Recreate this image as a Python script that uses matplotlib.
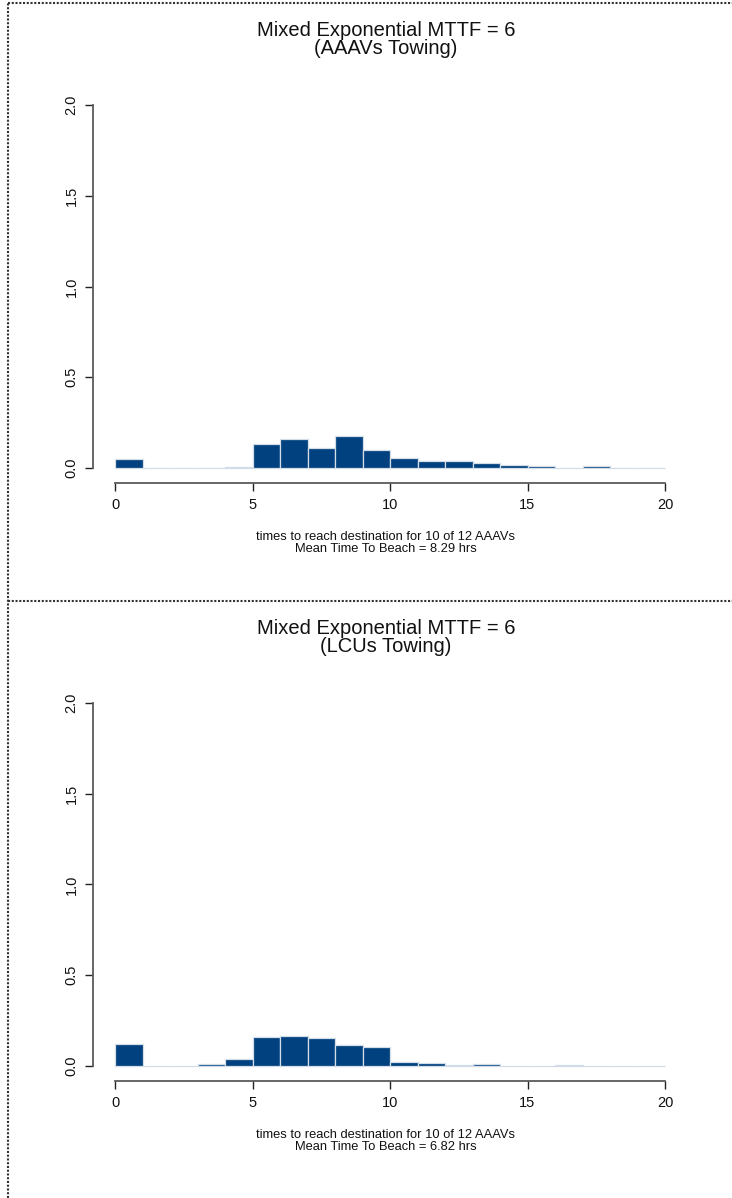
import matplotlib
matplotlib.use("Agg")
import matplotlib.pyplot as plt
from matplotlib.lines import Line2D
import numpy as np

plt.rcParams['font.family'] = ['Liberation Sans', 'DejaVu Sans']

# ---- data ----
bin_edges = list(range(0, 21))  # 1-hour bins, 0..20
dens_aaav = [0.050, 0.0, 0.0, 0.0, 0.005, 0.132, 0.160, 0.109, 0.178, 0.099,
             0.053, 0.040, 0.040, 0.026, 0.018, 0.011, 0.002, 0.011, 0.0, 0.0]
dens_lcu = [0.123, 0.0, 0.0, 0.012, 0.040, 0.160, 0.167, 0.154, 0.117, 0.105,
            0.020, 0.016, 0.006, 0.010, 0.001, 0.001, 0.005, 0.0, 0.0, 0.0]
titles = [["Mixed Exponential MTTF = 6", "(AAAVs Towing)"],
          ["Mixed Exponential MTTF = 6", "(LCUs Towing)"]]
xlabels = [["times to reach destination for 10 of 12 AAAVs", "Mean Time To Beach = 8.29 hrs"],
           ["times to reach destination for 10 of 12 AAAVs", "Mean Time To Beach = 6.82 hrs"]]
xticks = [0, 5, 10, 15, 20]
yticks = [0.0, 0.5, 1.0, 1.5, 2.0]
ytick_labels = ["0.0", "0.5", "1.0", "1.5", "2.0"]

W, H = 732, 1198
fig = plt.figure(figsize=(W / 100, H / 100), dpi=100)

FILL = "#02417F"
EDGE = "#D3DDE8"
AXC = "#5a5a5a"

panel_off = [0, 598]
for i, dens in enumerate([dens_aaav, dens_lcu]):
    off = panel_off[i]
    left, right = 93, 687
    top, bottom = 90.5 + off, 482.5 + off
    ax = fig.add_axes([left / W, 1 - bottom / H, (right - left) / W, (bottom - top) / H])
    lefts = np.array(bin_edges[:-1])
    widths = np.diff(bin_edges)
    ax.bar(lefts, dens, width=widths, align='edge', color=FILL,
           edgecolor=EDGE, linewidth=0.9)
    ax.set_xlim(-0.8, 20.8)
    ax.set_ylim(-0.08, 2.08)
    for s in ['top', 'right']:
        ax.spines[s].set_visible(False)
    ax.spines['left'].set_bounds(0, 2)
    ax.spines['bottom'].set_bounds(0, 20)
    for s in ['left', 'bottom']:
        ax.spines[s].set_color(AXC)
        ax.spines[s].set_linewidth(1.3)
    ax.set_xticks(xticks)
    ax.set_xticklabels([str(t) for t in xticks])
    ax.set_yticks(yticks)
    ax.set_yticklabels(ytick_labels, rotation=90, va='center')
    ax.tick_params(axis='both', direction='out', length=5.5, width=1.0,
                   color='#222222', labelsize=10.5, labelcolor='#111111')
    ax.tick_params(axis='x', pad=6)
    ax.tick_params(axis='y', pad=5)
    ax.patch.set_alpha(0)

    for k, ty in enumerate([31, 49]):
        fig.text(386 / W, 1 - (ty + off) / H, titles[i][k], ha='center', va='center',
                 fontsize=14.5, color='#111111')
    for k, ty in enumerate([537, 549]):
        fig.text(386 / W, 1 - (ty + off) / H, xlabels[i][k], ha='center', va='center',
                 fontsize=9.3, color='#111111')

# dotted frame lines
dot = dict(color='#333333', linewidth=1.5, linestyle=(0, (1, 0.8)))
fig.add_artist(Line2D([8 / W, 1], [1 - 3 / H, 1 - 3 / H], transform=fig.transFigure, **dot))
fig.add_artist(Line2D([8 / W, 8 / W], [0, 1 - 3 / H], transform=fig.transFigure, **dot))
fig.add_artist(Line2D([8 / W, 1], [1 - 601 / H, 1 - 601 / H], transform=fig.transFigure, **dot))

fig.savefig("out.png", dpi=100)
